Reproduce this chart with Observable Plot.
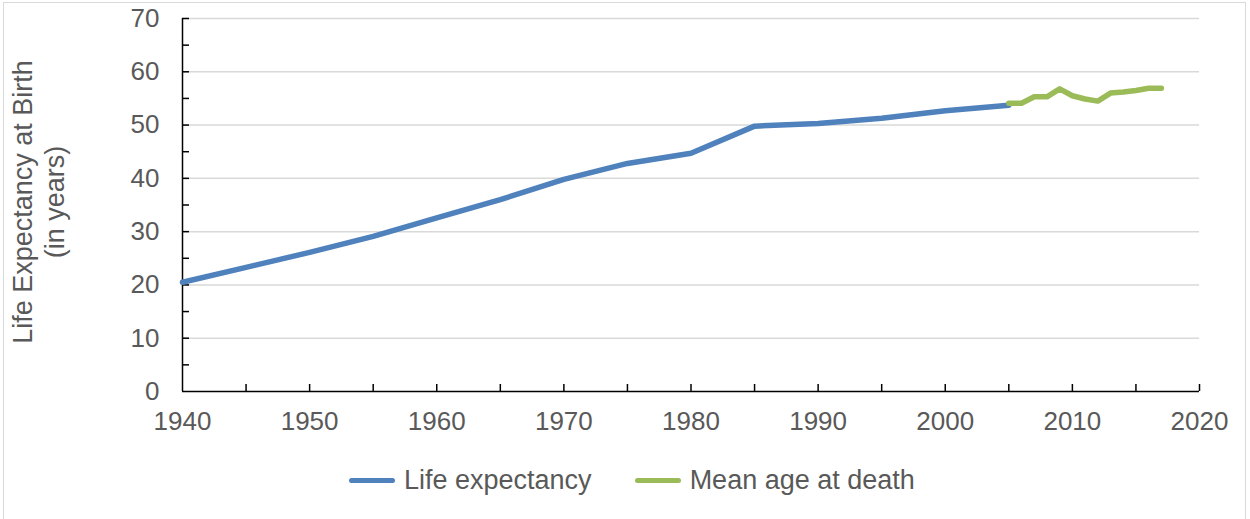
<!DOCTYPE html>
<html>
<head>
<meta charset="utf-8">
<script src="https://cdn.jsdelivr.net/npm/d3@7"></script>
<script src="https://cdn.jsdelivr.net/npm/@observablehq/plot@0.6"></script>
<style>
  html, body { margin: 0; padding: 0; background: #fff; }
  body { font-family: "Liberation Sans", Arial, sans-serif; }
  #wrap { position: relative; width: 1250px; height: 519px; overflow: hidden; background: #fff; }
  #border { position: absolute; left: 3px; top: 2px; width: 1243px; height: 600px; border: 1.5px solid #d9d9d9; box-sizing: border-box; pointer-events: none; }
  #chart { position: absolute; left: 0; top: 0; }
  #legend { position: absolute; left: 349px; top: 465px; display: flex; justify-content: flex-start; align-items: center; gap: 43px; font-size: 27px; color: #595959; }
  .item { display: flex; align-items: center; gap: 9px; }
  .sw { width: 46px; height: 5px; border-radius: 3px; }
</style>
</head>
<body>
<div id="wrap">
  <div id="chart"></div>
  <div id="legend"></div>
  <div id="border"></div>
</div>
<script>
// Life expectancy at birth (every 5 years)
const lifeYears  = [1940, 1945, 1950, 1955, 1960, 1965, 1970, 1975, 1980, 1985, 1990, 1995, 2000, 2005];
const lifeValues = [20.5, 23.3, 26.1, 29.1, 32.6, 36.0, 39.8, 42.8, 44.7, 49.8, 50.3, 51.3, 52.7, 53.7];

// Mean age at death (yearly)
const deathYears  = [2005, 2006, 2007, 2008, 2009, 2010, 2011, 2012, 2013, 2014, 2015, 2016, 2017];
const deathValues = [54.1, 54.1, 55.3, 55.3, 56.8, 55.5, 54.9, 54.5, 56.0, 56.2, 56.5, 56.9, 56.9];

const seriesNames  = ["Life expectancy", "Mean age at death"];
const seriesColors = ["#4f81bd", "#9bbb59"];

const xTicks      = [1940, 1950, 1960, 1970, 1980, 1990, 2000, 2010, 2020];
const xMinorTicks = [1945, 1950, 1955, 1960, 1965, 1970, 1975, 1980, 1985, 1990, 1995, 2000, 2005, 2010, 2015, 2020];
const yTicks      = [0, 10, 20, 30, 40, 50, 60, 70];
const yMinorTicks = [5, 10, 15, 20, 25, 30, 35, 40, 45, 50, 55, 60, 65, 70];
const yLabel = "Life Expectancy at Birth\n(in years)";

const life  = lifeYears.map((year, i) => ({year, value: lifeValues[i]}));
const death = deathYears.map((year, i) => ({year, value: deathValues[i]}));

const chart = Plot.plot({
  width: 1250,
  height: 450,
  marginTop: 18,
  marginBottom: 59,
  marginLeft: 182,
  marginRight: 51,
  style: {
    fontFamily: "'Liberation Sans', Arial, sans-serif",
    fontSize: "26px",
    color: "#595959",
    background: "transparent",
    overflow: "visible"
  },
  x: {domain: [1940, 2020]},
  y: {domain: [0, 70]},
  marks: [
    Plot.ruleY(yTicks.filter(d => d > 0), {stroke: "#d9d9d9", strokeWidth: 1.5}),
    Plot.axisY(yTicks, {tickSize: 0, tickPadding: 23, label: null, tickFormat: d => String(d), fontSize: 26}),
    Plot.axisY(yMinorTicks, {tickSize: -7, tickFormat: () => "", label: null, stroke: "black", strokeWidth: 1.5}),
    Plot.axisX(xTicks, {tickSize: 0, tickPadding: 20, label: null, tickFormat: d => String(d), fontSize: 26}),
    Plot.axisX(xMinorTicks, {tickSize: -7, tickFormat: () => "", label: null, stroke: "black", strokeWidth: 1.5}),
    Plot.ruleY([0], {stroke: "black", strokeWidth: 1.5}),
    Plot.ruleX([1940], {stroke: "black", strokeWidth: 1.5}),
    Plot.text([yLabel], {
      text: d => d, frameAnchor: "left", textAnchor: "middle", lineAnchor: "middle",
      rotate: -90, dx: -145, dy: -3, lineHeight: 1.2, fontSize: 27, fill: "#595959"
    }),
    Plot.line(life,  {x: "year", y: "value", stroke: seriesColors[0], strokeWidth: 5.5, strokeLinecap: "round", strokeLinejoin: "round"}),
    Plot.line(death, {x: "year", y: "value", stroke: seriesColors[1], strokeWidth: 5.5, strokeLinecap: "round", strokeLinejoin: "round"})
  ]
});
document.getElementById("chart").appendChild(chart);

const legend = document.getElementById("legend");
seriesNames.forEach((name, i) => {
  const item = document.createElement("div");
  item.className = "item";
  const sw = document.createElement("div");
  sw.className = "sw";
  sw.style.background = seriesColors[i];
  const label = document.createElement("span");
  label.textContent = name;
  item.appendChild(sw);
  item.appendChild(label);
  legend.appendChild(item);
});
</script>
</body>
</html>
